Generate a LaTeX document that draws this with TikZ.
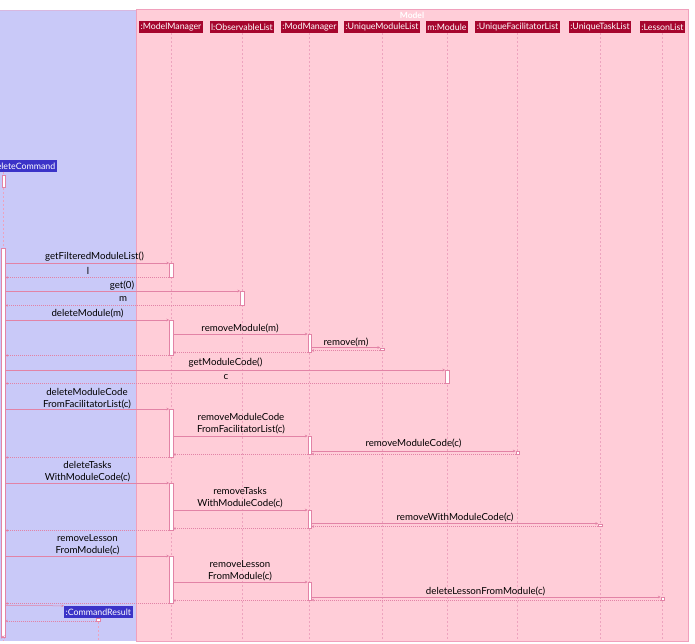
\documentclass[tikz,border=0pt]{standalone}
\usepackage{fontspec}
\setmainfont{Lato}
\usetikzlibrary{arrows.meta,calc}
\definecolor{pinkbg}{HTML}{FFCDD8}
\definecolor{pinkbord}{HTML}{F0A0BC}
\definecolor{bluebg}{HTML}{C9C9F8}
\definecolor{bluebord}{HTML}{D8B8E0}
\definecolor{linec}{HTML}{E283A6}
\definecolor{lifec}{HTML}{EDA3BE}
\definecolor{hdrred}{HTML}{A6062E}
\definecolor{actblue}{HTML}{3B33C8}
\tikzset{
  hdr/.style={fill=hdrred, text=white, font=\fontsize{8.8}{10}\selectfont, inner xsep=1.5pt, inner ysep=0pt, minimum height=12pt},
  actor/.style={fill=actblue, text=white, font=\fontsize{8.8}{10}\selectfont, inner xsep=1.5pt, inner ysep=0pt, minimum height=12pt},
  life/.style={draw=lifec, dash pattern=on 2pt off 2pt, line width=0.5pt},
  act/.style={draw=linec, fill=white, line width=0.5pt, minimum width=3.5pt, inner sep=0pt, anchor=north},
  call/.style={draw=linec, line width=0.5pt, -{Stealth[length=2.5pt,width=2.5pt]}},
  ret/.style={draw=linec, line width=0.5pt, dash pattern=on 1pt off 1pt, -{Stealth[length=2.5pt,width=2.5pt]}},
  msg/.style={font=\fontsize{9.7}{12}\selectfont, inner sep=0pt, align=center},
  modeltitle/.style={text=white, font=\fontsize{8.5}{10}\bfseries\selectfont, inner sep=0pt}
}
\begin{document}
\begin{tikzpicture}[x=1pt,y=-1pt]
\useasboundingbox (0,0) rectangle (695,644);
\clip (0,0) rectangle (695,644);
% regions
\fill[bluebg] (-100,10) rectangle (136,641);
\draw[bluebord, line width=0.7pt] (-100,10) -- (136,10);
\filldraw[fill=pinkbg, draw=pinkbord, line width=0.7pt] (136,9.5) rectangle (688,641);
\node[modeltitle] (mtitle) at (412,15) {Model};
% headers
\node[hdr] (hMM) at (171,27) {:ModelManager};
\node[hdr] (hOL) at (242,27) {l:ObservableList};
\node[hdr] (hMD) at (309.5,27) {:ModManager};
\node[hdr] (hUML) at (382,27) {:UniqueModuleList};
\node[hdr] (hMod) at (447,27) {m:Module};
\node[hdr] (hUFL) at (517.5,27) {:UniqueFacilitatorList};
\node[hdr] (hUTL) at (600,27) {:UniqueTaskList};
\node[hdr] (hLL) at (662.5,27) {:LessonList};
\node[actor, anchor=east] (dc) at (57,166) {:DeleteCommand};
\node[actor] (cr) at (98.3,612) {:CommandResult};
% lifelines
\coordinate (dcl) at (3.5,172);
\foreach \h in {hMM,hOL,hMD,hUML,hMod,hUFL,hUTL,hLL}{
  \draw[life] (\h.south) -- (\h.south |- 0,641);
}
\draw[life] (dcl) -- (3.5,641);
\draw[life] (cr.south) -- (cr.south |- 0,641);
% activation bars
\node[act, minimum height=12pt] (aDC0) at (3.5,175) {};
\node[act, minimum height=389pt] (aDC) at (3.3,248) {};
\node[act, minimum height=14pt] (aMM1) at (171,263) {};
\node[act, minimum height=14pt] (aOL) at (242,291) {};
\node[act, minimum height=35pt] (aMM2) at (171,320) {};
\node[act, minimum height=18pt] (aMD1) at (309.5,334) {};
\node[act, minimum height=2.5pt] (aUML) at (382,347.5) {};
\node[act, minimum height=13pt] (aMod) at (447,370) {};
\node[act, minimum height=48pt] (aMM3) at (171,409) {};
\node[act, minimum height=18pt] (aMD2) at (309.5,436) {};
\node[act, minimum height=2.5pt] (aUFL) at (517.5,451) {};
\node[act, minimum height=47pt] (aMM4) at (171,483) {};
\node[act, minimum height=18pt] (aMD3) at (309.5,510) {};
\node[act, minimum height=2.5pt] (aUTL) at (600,523.5) {};
\node[act, minimum height=47pt] (aMM5) at (171,556) {};
\node[act, minimum height=18pt] (aMD4) at (309.5,582) {};
\node[act, minimum height=2.5pt] (aLL) at (662.5,597) {};
\node[act, minimum height=2.5pt] (aCR) at (98.3,618) {};
% messages
\draw[call] (aDC.east |- aMM1.north) -- (aMM1.north west);
\node[msg] (m1) at (94.5,257) {getFilteredModuleList()};
\draw[ret] (aMM1.south west) -- (aDC.east |- aMM1.south);
\node[msg] (r1) at (88,270.5) {l};

\draw[call] (aDC.east |- aOL.north) -- (aOL.north west);
\node[msg] (m2) at (122,285.5) {get(0)};
\draw[ret] (aOL.south west) -- (aDC.east |- aOL.south);
\node[msg] (r2) at (123,299.5) {m};

\draw[call] (aDC.east |- aMM2.north) -- (aMM2.north west);
\node[msg] (m3) at (87.5,313.5) {deleteModule(m)};
\draw[call] (aMM2.east |- aMD1.north) -- (aMD1.north west);
\node[msg] (m4) at (240,328) {removeModule(m)};
\draw[call] (aMD1.east |- aUML.north) -- (aUML.north west);
\node[msg] (m5) at (346,342.5) {remove(m)};
\draw[ret] (aUML.south west) -- (aMD1.east |- aUML.south);
\draw[ret] (aMD1.south west) -- (aMM2.east |- aMD1.south);
\draw[ret] (aMM2.south west) -- (aDC.east |- aMM2.south);

\draw[call] (aDC.east |- aMod.north) -- (aMod.north west);
\node[msg] (m6) at (225.5,363) {getModuleCode()};
\draw[ret] (aMod.south west) -- (aDC.east |- aMod.south);
\node[msg] (r6) at (226,377) {c};

\draw[call] (aDC.east |- aMM3.north) -- (aMM3.north west);
\node[msg] (m7) at (87,398.5) {deleteModuleCode\\FromFacilitatorList(c)};
\draw[call] (aMM3.east |- aMD2.north) -- (aMD2.north west);
\node[msg] (m8) at (241,424) {removeModuleCode\\FromFacilitatorList(c)};
\draw[call] (aMD2.east |- aUFL.north) -- (aUFL.north west);
\node[msg] (m9) at (413.5,443.5) {removeModuleCode(c)};
\draw[ret] (aUFL.south west) -- (aMD2.east |- aUFL.south);
\draw[ret] (aMD2.south west) -- (aMM3.east |- aMD2.south);
\draw[ret] (aMM3.south west) -- (aDC.east |- aMM3.south);

\draw[call] (aDC.east |- aMM4.north) -- (aMM4.north west);
\node[msg] (m10) at (87.5,472) {deleteTasks\\WithModuleCode(c)};
\draw[call] (aMM4.east |- aMD3.north) -- (aMD3.north west);
\node[msg] (m11) at (240,497.5) {removeTasks\\WithModuleCode(c)};
\draw[call] (aMD3.east |- aUTL.north) -- (aUTL.north west);
\node[msg] (m12) at (455,517) {removeWithModuleCode(c)};
\draw[ret] (aUTL.south west) -- (aMD3.east |- aUTL.south);
\draw[ret] (aMD3.south west) -- (aMM4.east |- aMD3.south);
\draw[ret] (aMM4.south west) -- (aDC.east |- aMM4.south);

\draw[call] (aDC.east |- aMM5.north) -- (aMM5.north west);
\node[msg] (m13) at (87.5,544.5) {removeLesson\\FromModule(c)};
\draw[call] (aMM5.east |- aMD4.north) -- (aMD4.north west);
\node[msg] (m14) at (240,571) {removeLesson\\FromModule(c)};
\draw[call] (aMD4.east |- aLL.north) -- (aLL.north west);
\node[msg] (m15) at (485.5,591) {deleteLessonFromModule(c)};
\draw[ret] (aLL.south west) -- (aMD4.east |- aLL.south);
\draw[ret] (aMD4.south west) -- (aMM5.east |- aMD4.south);
\draw[ret] (aMM5.south west) -- (aDC.east |- aMM5.south);

\draw[call] (aDC.east |- 0,605.5) -- (cr.north west);
\draw[ret] (aCR.south west) -- (aDC.east |- aCR.south);
% destroy mark
\coordinate (xm) at (3,637);
\draw[linec, line width=0.5pt] ($(xm)+(-1.5,-1.5)$) -- ($(xm)+(1.5,1.5)$) ($(xm)+(-1.5,1.5)$) -- ($(xm)+(1.5,-1.5)$);
\end{tikzpicture}
\end{document}
